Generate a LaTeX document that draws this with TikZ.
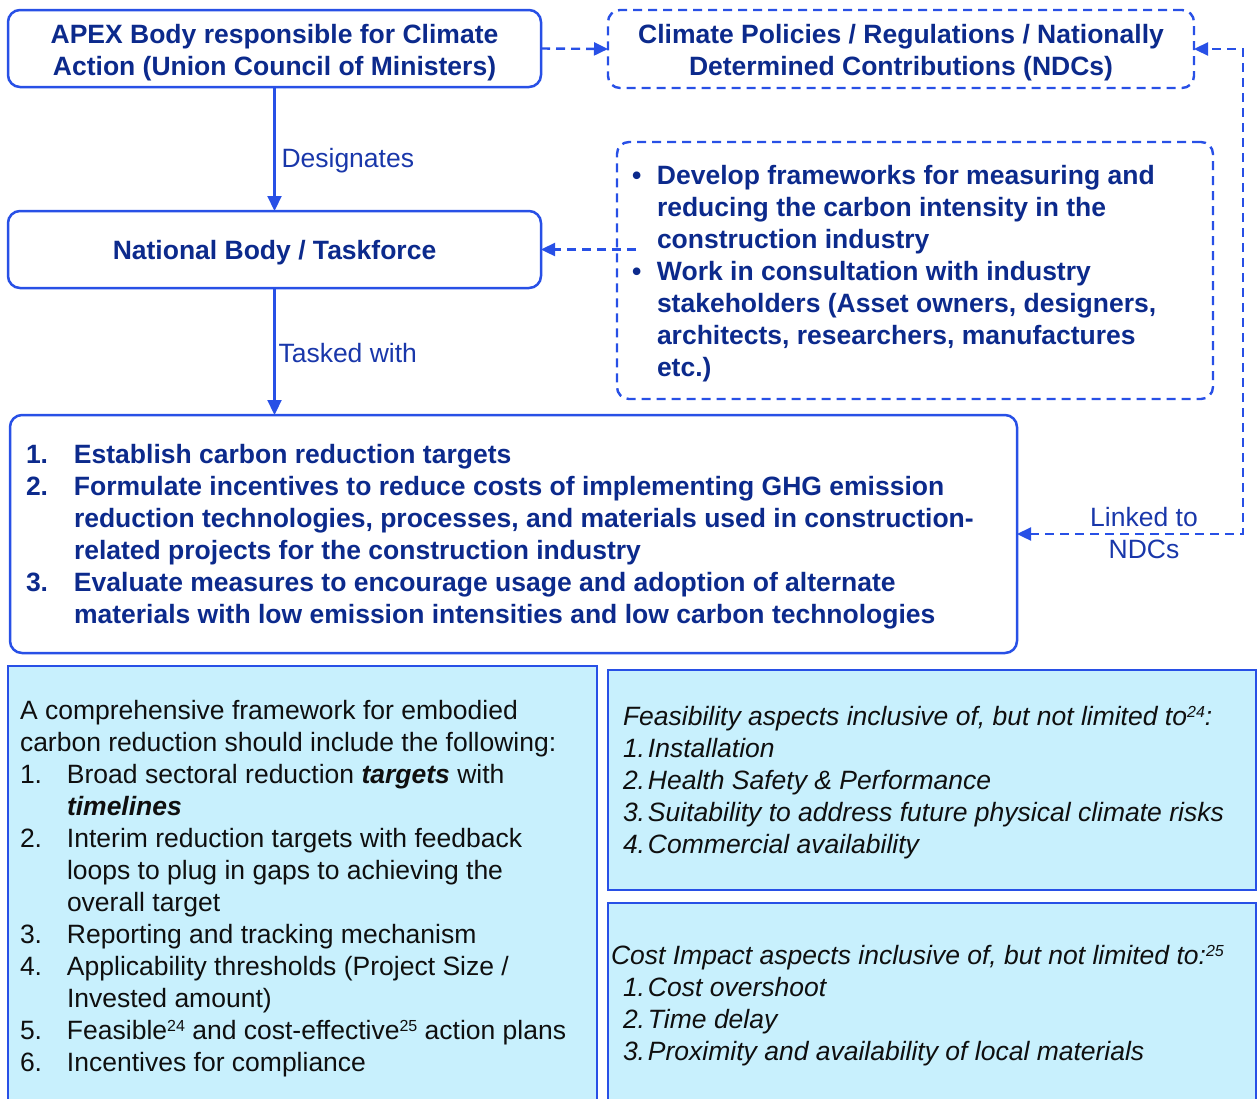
\documentclass[tikz,border=0pt]{standalone}
\usepackage{fontspec}
\setmainfont{Liberation Sans}
\usetikzlibrary{arrows.meta}
\definecolor{bord}{RGB}{40,80,230}
\definecolor{navy}{RGB}{12,42,140}
\definecolor{lblc}{RGB}{25,55,170}
\definecolor{cyanfill}{RGB}{200,240,253}
\definecolor{txtc}{RGB}{15,15,15}
\newcommand\supnum[1]{\raisebox{8pt}{\fontsize{16}{16}\selectfont #1}}
\begin{document}
\begin{tikzpicture}[x=1pt,y=-1pt,
  every node/.style={inner sep=0pt, outer sep=0pt},
  hd/.style={font=\fontsize{26.5}{32}\selectfont\bfseries, text=navy},
  body/.style={font=\fontsize{26.5}{32}\selectfont, text=txtc},
  itbody/.style={font=\fontsize{26.5}{32}\selectfont\itshape, text=txtc},
  lbl/.style={font=\fontsize{26.5}{32}\selectfont, text=lblc},
  solidbox/.style={draw=bord, line width=2.5pt, rounded corners=12pt},
  dashbox/.style={solidbox, line width=2.4pt, dash pattern=on 9pt off 6pt},
  fillbox/.style={draw=bord, line width=2.5pt, fill=cyanfill},
  conn/.style={draw=bord, line width=2.2pt, -{Triangle[length=15pt,width=14pt]}},
  dconn/.style={draw=bord, line width=2.4pt, dash pattern=on 9pt off 6pt},
  dtip/.style={-{Triangle[length=14pt,width=13pt]}},
  ddtip/.style={{Triangle[length=14pt,width=13pt]}-{Triangle[length=14pt,width=13pt]}}
]
\useasboundingbox (0,0) rectangle (1260,1098);

% top boxes
\node[solidbox, minimum width=533, minimum height=77] (apex) at (274.5,48.5) {};
\node[hd, align=center] (apextxt) at ([yshift=-4pt]apex.center)
  {APEX Body responsible for Climate\\Action (Union Council of Ministers)};
\node[dashbox, minimum width=586, minimum height=78] (clim) at (901,49) {};
\node[hd, align=center] (climtxt) at ([yshift=-4pt]clim.center)
  {Climate Policies / Regulations / Nationally\\Determined Contributions (NDCs)};
\node[solidbox, minimum width=533, minimum height=77] (nat) at (274.5,249.5) {};
\node[hd] (nattxt) at ([yshift=-3pt]nat.center) {National Body / Taskforce};

% bullet box
\node[dashbox, minimum width=596, minimum height=257] (bul) at (915,270.5) {};
\node[hd, anchor=base west] (bultxt) at (632,184) {\begin{tabular}[t]{@{}p{25pt}@{}l@{}}
\textbullet & Develop frameworks for measuring and\\
 & reducing the carbon intensity in the\\
 & construction industry\\
\textbullet & Work in consultation with industry\\
 & stakeholders (Asset owners, designers,\\
 & architects, researchers, manufactures\\
 & etc.)
\end{tabular}};

% task box
\node[solidbox, minimum width=1007, minimum height=238] (task) at (513.5,534) {};
\node[hd, anchor=base west] (tasktxt) at (26,463) {\begin{tabular}[t]{@{}p{48pt}@{}l@{}}
1. & Establish carbon reduction targets\\
2. & Formulate incentives to reduce costs of implementing GHG emission\\
 & reduction technologies, processes, and materials used in construction-\\
 & related projects for the construction industry\\
3. & Evaluate measures to encourage usage and adoption of alternate\\
 & materials with low emission intensities and low carbon technologies
\end{tabular}};

% bottom left framework box
\node[fillbox, anchor=north west, minimum width=589, minimum height=445] (frame) at (8,666) {};
\node[body, anchor=base west] (frametxt) at (20,719) {\begin{tabular}[t]{@{}p{47pt}@{}l@{}}
\multicolumn{2}{@{}l@{}}{A comprehensive framework for embodied}\\
\multicolumn{2}{@{}l@{}}{carbon reduction should include the following:}\\
1. & Broad sectoral reduction \textbf{\textit{targets}} with\\
 & \textbf{\textit{timelines}}\\
2. & Interim reduction targets with feedback\\
 & loops to plug in gaps to achieving the\\
 & overall target\\
3. & Reporting and tracking mechanism\\
4. & Applicability thresholds (Project Size /\\
 & Invested amount)\\
5. & Feasible\supnum{24} and cost-effective\supnum{25} action plans\\
6. & Incentives for compliance
\end{tabular}};

% feasibility box
\node[fillbox, anchor=north west, minimum width=648, minimum height=220] (feas) at (608,670) {};
\node[itbody, anchor=base west] (feastxt) at (623,725) {\begin{tabular}[t]{@{}p{25pt}@{}l@{}}
\multicolumn{2}{@{}l@{}}{Feasibility aspects inclusive of, but not limited to\supnum{24}:}\\
1. & Installation\\
2. & Health Safety \& Performance\\
3. & Suitability to address future physical climate risks\\
4. & Commercial availability
\end{tabular}};

% cost box
\node[fillbox, anchor=north west, minimum width=648, minimum height=210] (cost) at (608,903) {};
\node[itbody, anchor=base west] (costhead) at (611,964)
  {Cost Impact aspects inclusive of, but not limited to:\supnum{25}};
\node[itbody, anchor=base west] (costlist) at (623,996) {\begin{tabular}[t]{@{}p{25pt}@{}l@{}}
1. & Cost overshoot\\
2. & Time delay\\
3. & Proximity and availability of local materials
\end{tabular}};

% connectors
\draw[conn] (apex.south) -- node[lbl, anchor=base west, pos=0.653, xshift=7pt] (desig) {Designates} (nat.north);
\draw[conn] (nat.south) -- node[lbl, anchor=base west, pos=0.583, xshift=4pt] (tasked) {Tasked with} (nat.south |- task.north);
\draw[dconn, dtip] (apex.east) -- (clim.west);
\coordinate (bulstart) at (636,249.5);
\draw[dconn, dtip] (bulstart) -- (nat.east);
\coordinate (lk) at (1243,534);
\draw[dconn, ddtip] (task.east) -- (lk) |- (clim.east);
\node[lbl, align=center] (lkl) at (1144,533) {Linked to\\NDCs};
\end{tikzpicture}
\end{document}
